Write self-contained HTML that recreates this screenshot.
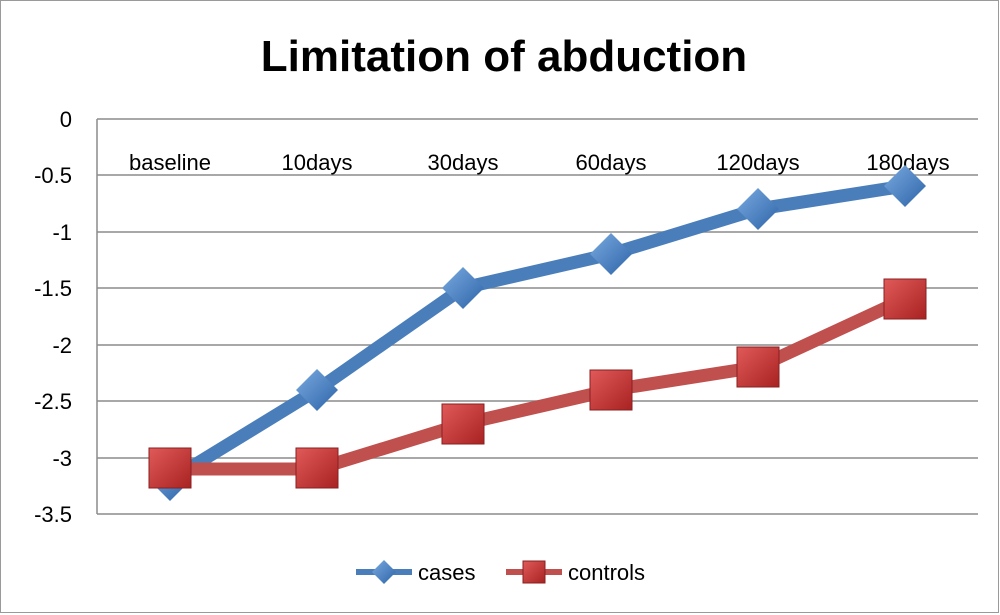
<!DOCTYPE html>
<html><head><style>
html,body{margin:0;padding:0;background:#fff;}
svg{display:block;font-family:"Liberation Sans",Calibri,sans-serif;}
</style></head><body>
<svg width="1000" height="615" viewBox="0 0 1000 615" xmlns="http://www.w3.org/2000/svg">
<defs>
<linearGradient id="rg" x1="0" y1="0" x2="1" y2="1"><stop offset="0" stop-color="#e05a5a"/><stop offset="1" stop-color="#a82222"/></linearGradient>
<linearGradient id="bg" x1="0" y1="0" x2="1" y2="1"><stop offset="0" stop-color="#7aaae0"/><stop offset="1" stop-color="#2d64a8"/></linearGradient>
</defs>
<rect x="0.5" y="0.5" width="998" height="612" fill="#fff" stroke="#9a9a9a"/>
<text x="504" y="71" text-anchor="middle" font-size="44" font-weight="bold" fill="#000">Limitation of abduction</text>
<g stroke="#8c8c8c" stroke-width="1.5">
<line x1="97" y1="119" x2="978" y2="119"/>
<line x1="97" y1="175" x2="978" y2="175"/>
<line x1="97" y1="232" x2="978" y2="232"/>
<line x1="97" y1="288" x2="978" y2="288"/>
<line x1="97" y1="345" x2="978" y2="345"/>
<line x1="97" y1="401" x2="978" y2="401"/>
<line x1="97" y1="458" x2="978" y2="458"/>
<line x1="97" y1="514" x2="978" y2="514"/>
<line x1="97" y1="119" x2="97" y2="514"/>
</g>
<g font-size="22" text-anchor="end" fill="#000">
<text x="72" y="127">0</text><text x="72" y="183">-0.5</text><text x="72" y="240">-1</text>
<text x="72" y="296">-1.5</text><text x="72" y="353">-2</text><text x="72" y="409">-2.5</text>
<text x="72" y="466">-3</text><text x="72" y="522">-3.5</text>
</g>
<g font-size="22" text-anchor="middle" fill="#000">
<text x="170" y="170">baseline</text><text x="317" y="170">10days</text><text x="463" y="170">30days</text>
<text x="611" y="170">60days</text><text x="758" y="170">120days</text><text x="908" y="170">180days</text>
</g>
<polyline fill="none" stroke="#4a7ebb" stroke-width="13" stroke-linejoin="round" points="170,480 317,390 463,288 611,254 758,209 905,186"/>
<g fill="url(#bg)">
<polygon points="170,459 191,480 170,501 149,480"/>
<polygon points="317,369 338,390 317,411 296,390"/>
<polygon points="463,267 484,288 463,309 442,288"/>
<polygon points="611,233 632,254 611,275 590,254"/>
<polygon points="758,188 779,209 758,230 737,209"/>
<polygon points="905,165 926,186 905,207 884,186"/>
</g>
<polyline fill="none" stroke="#c0504d" stroke-width="13" stroke-linejoin="round" points="170,469 317,469 463,424 611,390 758,367 905,299"/>
<g fill="url(#rg)" stroke="#8a1f1f" stroke-width="1">
<rect x="149" y="448" width="42" height="40"/>
<rect x="296" y="448" width="42" height="40"/>
<rect x="442" y="404" width="42" height="40"/>
<rect x="590" y="370" width="42" height="40"/>
<rect x="737" y="347" width="42" height="40"/>
<rect x="884" y="279" width="42" height="40"/>
</g>
<line x1="356" y1="572" x2="412" y2="572" stroke="#4a7ebb" stroke-width="6"/>
<polygon points="384,560 396,572 384,584 372,572" fill="url(#bg)"/>
<text x="418" y="580" font-size="22">cases</text>
<line x1="506" y1="572" x2="562" y2="572" stroke="#c0504d" stroke-width="6"/>
<rect x="523" y="561" width="22" height="22" fill="url(#rg)" stroke="#8a1f1f"/>
<text x="568" y="580" font-size="22">controls</text>
</svg>
</body></html>
